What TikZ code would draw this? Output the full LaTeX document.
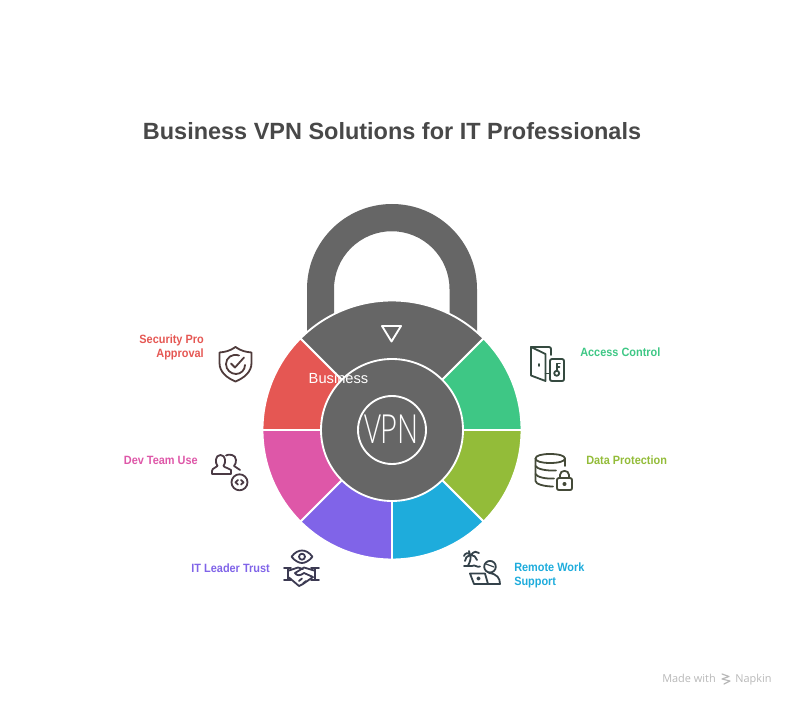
\documentclass[tikz,border=0pt]{standalone}
\usepackage{fontspec}
\setmainfont{Liberation Sans}
\newfontfamily\labelfont[FakeStretch=0.91]{Liberation Sans}
\newfontfamily\vpnfont{Open Sans Light}
\newfontfamily\markfont{Open Sans}
\definecolor{lockgray}{HTML}{666666}
\definecolor{titlegray}{HTML}{484848}
\definecolor{markgray}{HTML}{B8B8B8}
\definecolor{secgreen}{HTML}{3EC785}
\definecolor{secolive}{HTML}{93BC39}
\definecolor{secblue}{HTML}{1EACDC}
\definecolor{secviolet}{HTML}{8064E8}
\definecolor{secpink}{HTML}{DE57A8}
\definecolor{secred}{HTML}{E55753}
\definecolor{iconred}{HTML}{4F3B3B}
\definecolor{iconpink}{HTML}{4B3A44}
\definecolor{iconviolet}{HTML}{3C3A52}
\definecolor{iconblue}{HTML}{34424A}
\definecolor{icongreen}{HTML}{354A40}
\definecolor{iconolive}{HTML}{444A38}
\tikzset{
  ring/.style={draw=white, line width=1.4pt},
  iconline/.style={line width=1.35pt, line cap=round, line join=round},
  itemlabel/.style={font=\labelfont\fontsize{9}{10.5}\selectfont\bfseries, inner sep=0pt},
  marklabel/.style={text=markgray, inner sep=0pt, anchor=base west, font=\markfont\fontsize{8.2}{10}\selectfont},
}
\begin{document}
\begin{tikzpicture}[line cap=round, line join=round, x=0.75pt, y=0.75pt]
  \useasboundingbox (0,0) rectangle (796,707);
  \coordinate (hub) at (392,277);
  % shackle
  \fill[lockgray] (307,369) -- (307,418) arc (180:0:85) -- (477,369) -- (449.5,369) -- (449.5,418) arc (0:180:57.75) -- (334,369) -- cycle;
  % sectors
  \foreach \from/\to/\col in {45/135/lockgray, 0/45/secgreen, -45/0/secolive, -90/-45/secblue, -135/-90/secviolet, 180/225/secpink, 135/180/secred}
    \filldraw[ring, fill=\col] (hub) -- ++(\from:129.5) arc (\from:\to:129.5) -- cycle;
  \filldraw[ring, fill=lockgray] (hub) circle (71);
  \draw[ring] (hub) circle (34);
  \draw[ring] (382,381) -- (401,381) -- (391.5,365.5) -- cycle;
  \node[inner sep=0pt, text=white] (vpn) at (391.5,278) {\vpnfont\fontsize{30}{30}\selectfont\scalebox{0.73}[1]{VPN}};
  \node[inner sep=0pt, text=white, font=\fontsize{11}{12}\selectfont] (business) at (338.5,329) {Business};
  \node[text=titlegray, inner sep=0pt, font=\fontsize{17.6}{20}\selectfont\bfseries] (title) at (392,576) {Business VPN Solutions for IT Professionals};
  % labels
  \node[itemlabel, text=secred, anchor=east, align=right] (secpro) at (204,360) {Security Pro\\Approval};
  \node[itemlabel, text=secpink, anchor=east] (devteam) at (198,247) {Dev Team Use};
  \node[itemlabel, text=secviolet, anchor=east] (itlead) at (270,139) {IT Leader Trust};
  \node[itemlabel, text=secblue, anchor=west, align=left] (remote) at (514,132) {Remote Work\\Support};
  \node[itemlabel, text=secolive, anchor=west] (dataprot) at (586,247) {Data Protection};
  \node[itemlabel, text=secgreen, anchor=west] (access) at (580,355) {Access Control};
  % icons, written with y down from the top edge
  \begin{scope}[yshift=530.25pt, yscale=-1, iconline]
    % shield
    \draw[iconred] (235.5,347) .. controls (230,351) and (225,352) .. (219.5,352.5) -- (219.5,363) .. controls (219.5,372) and (227,378) .. (235.5,381.5) .. controls (244,378) and (251.5,372) .. (251.5,363) -- (251.5,352.5) .. controls (246,352) and (241,351) .. (235.5,347) -- cycle;
    \draw[iconred] (239,355.5) .. controls (232,353) and (226,358) .. (226,364) .. controls (226,370) and (231,374) .. (236,374) .. controls (241,374) and (245,370) .. (245,365);
    \draw[iconred] (231,363.5) -- (235,367.5) -- (244,357.5);
    % people
    \draw[iconpink] (212,474) -- (212,471) .. controls (212,468) and (216,468) .. (217.5,466) .. controls (215,463) and (215,455) .. (220.5,455) .. controls (226,455) and (226,463) .. (223.5,466) .. controls (225,468) and (229,468) .. (231,470) -- (231,474) -- cycle;
    \draw[iconpink] (226,455.5) .. controls (228,454) and (236,454) .. (236,460) .. controls (236,462) and (235.5,465) .. (234,466) .. controls (236,468) and (238,468) .. (240,470);
    \draw[iconpink] (239.5,482.3) circle (8);
    \draw[iconpink] (238,480) -- (235.5,482.3) -- (238,484.6) (241,480) -- (243.5,482.3) -- (241,484.6);
    % eye and handshake
    \draw[iconviolet] (291.5,556.7) .. controls (295,552) and (299,550.5) .. (302,550.5) .. controls (305,550.5) and (309,552) .. (312.5,556.7) .. controls (309,561) and (305,563) .. (302,563) .. controls (299,563) and (295,561) .. (291.5,556.7) -- cycle;
    \draw[iconviolet] (302,556.7) circle (3);
    \draw[iconviolet] (284,568) -- (291,568) (284,580) -- (291,580) (288,568) -- (288,580) (311,568) -- (319,568) (311,580) -- (319,580) (315,568) -- (315,580);
    \draw[iconviolet] (289,570.5) -- (298,567.5) -- (303,569) (289,577.5) -- (299,586) -- (303,584) -- (313,577) (314,570.5) -- (304,567.5) -- (295,573) .. controls (297,576) and (300,576) .. (304,573) -- (313,577) (299,581) -- (302,578.5) (303,583.5) -- (306,581);
    % beach and laptop
    \draw[iconblue] (470.5,555) .. controls (471,559) and (470,562) .. (468,565.5) (464,566) -- (472,566) .. controls (475,564) and (477,568) .. (480,566.5) (471,555) .. controls (468,552) and (465,553) .. (464,556) (471,555) .. controls (474,551) and (477,551) .. (479,553) (470,555) .. controls (467,556) and (465,558) .. (465,561) (471,555) .. controls (474,555) and (476,557) .. (477,560) (470,555) -- (469,551);
    \draw[iconblue] (490,566.7) circle (5.8);
    \draw[iconblue, line width=0.9pt] (486,564) -- (494,567);
    \draw[iconblue] (470,573.5) -- (485,573.5) -- (488,584) -- (474,584) -- cycle;
    \draw[iconblue] (478.5,578.5) circle (1.2);
    \draw[iconblue] (488,584) -- (500,584) .. controls (500,578) and (497,574) .. (489,573);
    % door and key
    \draw[icongreen] (531,347) -- (531,375.5) -- (545.5,381) -- (545.5,354) -- cycle;
    \draw[icongreen] (531,347) -- (549,347) .. controls (550.5,347) and (551,348) .. (551,349) -- (551,355);
    \draw[icongreen] (545.5,373.5) -- (550,373.5) (539,364) -- (539,366);
    \draw[icongreen] (552,359) -- (562,359) .. controls (563.5,359) and (564,360) .. (564,361) -- (564,379) .. controls (564,380.5) and (563.5,381) .. (562,381) -- (552,381) .. controls (550.5,381) and (550,380.5) .. (550,379) -- (550,361) .. controls (550,360) and (550.5,359) .. (552,359) -- cycle;
    \draw[icongreen] (556.7,373.3) circle (2.5);
    \draw[icongreen] (556.7,370.8) -- (556.7,363.5) -- (560,363.5) (556.7,367) -- (559.5,367);
    % database and padlock
    \draw[iconolive] (550,454) .. controls (558,454) and (565,455.5) .. (565,458.5) .. controls (565,461.5) and (558,463) .. (550,463) .. controls (542,463) and (535.5,461.5) .. (535.5,458.5) .. controls (535.5,455.5) and (542,454) .. (550,454) -- cycle;
    \draw[iconolive] (535.5,458.5) -- (535.5,481) .. controls (535.5,484) and (544,486.5) .. (553,486.5);
    \draw[iconolive] (535.5,466) .. controls (537,469) and (546,471) .. (556,470.5);
    \draw[iconolive] (535.5,474) .. controls (537,477) and (545,479) .. (554,478.5);
    \draw[iconolive] (565,458.5) -- (565,466);
    \draw[iconolive] (559,478) -- (570,478) .. controls (571.5,478) and (572,479) .. (572,480) -- (572,488) .. controls (572,489.5) and (571.5,490) .. (570,490) -- (559,490) .. controls (557.5,490) and (557,489.5) .. (557,488) -- (557,480) .. controls (557,479) and (557.5,478) .. (559,478) -- cycle;
    \draw[iconolive] (560,478) -- (560,475) .. controls (560,469.5) and (569,469.5) .. (569,475) -- (569,478);
    \draw[iconolive] (564.5,484) circle (1.3);
    % napkin mark
    \draw[markgray, line width=0.9pt] (722,674) -- (729,676.5) -- (722,679) -- (730,681) -- (724,684);
  \end{scope}
  \node[marklabel] (madewith) at (662,25) {Made with};
  \node[marklabel] (napkin) at (735,25) {Napkin};
\end{tikzpicture}
\end{document}
